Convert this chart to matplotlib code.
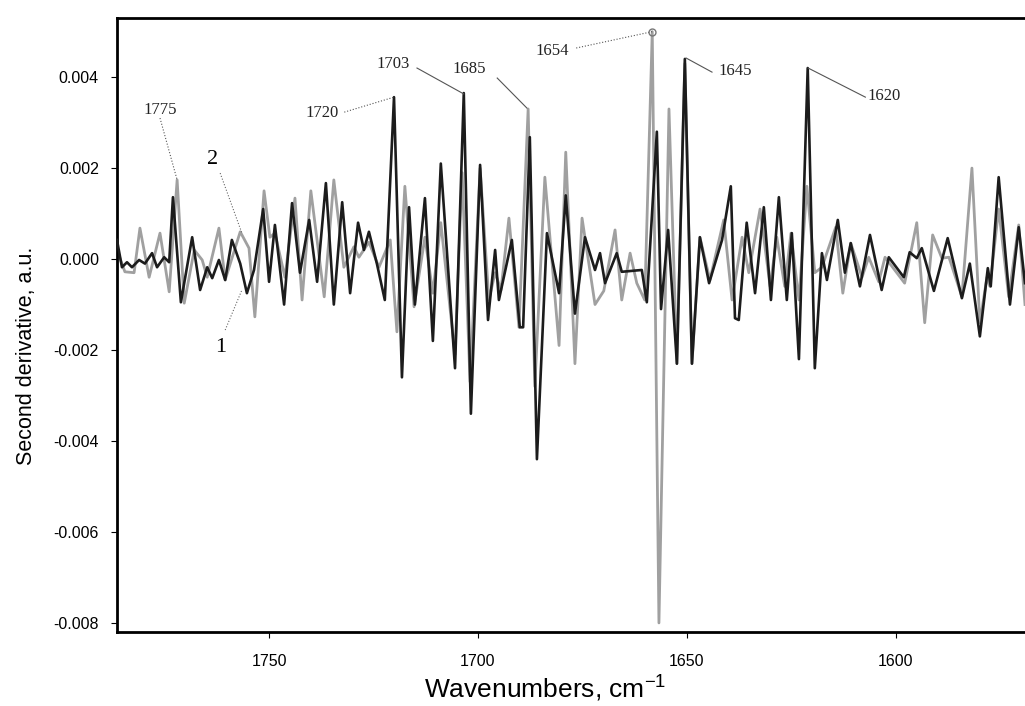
import matplotlib
matplotlib.use("Agg")
import matplotlib.pyplot as plt

plt.rcParams['font.family'] = ['Liberation Sans', 'DejaVu Sans']
plt.rcParams['mathtext.default'] = 'regular'

# curve 1 (black) - wavenumber, second derivative
wn_1 = [1786.4, 1785.2, 1784.0, 1782.8, 1781.1, 1779.7, 1778.0, 1776.8, 1775.1, 1773.9,
        1773.0, 1771.1, 1768.4, 1766.5, 1764.8, 1763.6, 1762.0, 1760.5, 1758.9, 1756.9,
        1755.3, 1753.6, 1751.4, 1750.0, 1748.6, 1746.4, 1744.5, 1742.6, 1740.4, 1738.5,
        1736.4, 1734.5, 1732.5, 1730.6, 1728.7, 1727.3, 1726.1, 1724.2, 1722.3, 1720.1,
        1718.2, 1716.5, 1715.1, 1712.7, 1710.8, 1708.9, 1705.5, 1703.4, 1701.7, 1699.5,
        1697.6, 1695.9, 1695.0, 1691.9, 1690.0, 1689.2, 1687.6, 1685.9, 1683.5, 1680.6,
        1679.0, 1676.8, 1674.4, 1672.0, 1670.8, 1669.6, 1666.8, 1665.6, 1660.8, 1659.6,
        1657.2, 1656.2, 1654.5, 1652.4, 1650.5, 1648.8, 1646.9, 1644.7, 1641.6, 1639.5,
        1638.5, 1637.6, 1635.7, 1633.7, 1631.6, 1629.9, 1628.0, 1626.1, 1624.9, 1623.2,
        1621.1, 1619.4, 1617.7, 1616.5, 1613.9, 1612.2, 1610.8, 1608.6, 1606.2, 1603.4,
        1601.7, 1598.1, 1596.7, 1595.0, 1593.8, 1590.9, 1587.6, 1584.2, 1582.3, 1579.9,
        1578.0, 1577.3, 1575.4, 1572.7, 1570.6, 1569.1]
d2_1 = [0.00042, -0.00018, -0.00007, -0.00018, -0.00002, -0.0001, 0.00013, -0.00018, 0.00004, -0.00007,
        0.00136, -0.00095, 0.00048, -0.00068, -0.00018, -0.00042, -0.00002, -0.00046, 0.00042, -0.0001,
        -0.00075, -0.00024, 0.0011, -0.0005, 0.00075, -0.001, 0.00123, -0.0003, 0.00086, -0.0005,
        0.00167, -0.001, 0.00125, -0.00075, 0.0008, 0.0002, 0.0006, -0.0001, -0.0009, 0.00356,
        -0.0026, 0.00114, -0.001, 0.00134, -0.0018, 0.0021, -0.0024, 0.00365, -0.0034, 0.00207,
        -0.00134, 0.0002, -0.0009, 0.00042, -0.0015, -0.0015, 0.00268, -0.0044, 0.00057, -0.00075,
        0.0014, -0.0012, 0.00048, -0.00024, 0.00013, -0.00053, 0.00013, -0.00028, -0.00024, -0.00095,
        0.0028, -0.0011, 0.00064, -0.0023, 0.0044, -0.0023, 0.00048, -0.00053, 0.00042, 0.0016,
        -0.0013, -0.00134, 0.0008, -0.00075, 0.00114, -0.0009, 0.00136, -0.0009, 0.00057, -0.0022,
        0.0042, -0.0024, 0.00013, -0.00046, 0.00086, -0.0003, 0.00035, -0.0006, 0.00053, -0.00068,
        0.00004, -0.0004, 0.00015, 0.00002, 0.00024, -0.0007, 0.00046, -0.00086, -0.0001, -0.0017,
        -0.0002, -0.0006, 0.0018, -0.001, 0.0007, -0.00053]

# curve 2 (grey)
wn_2 = [1786.4, 1784.5, 1782.3, 1780.9, 1778.7, 1776.1, 1773.9, 1772.0, 1770.3, 1767.9,
        1766.0, 1764.8, 1762.0, 1760.5, 1756.9, 1754.8, 1753.4, 1751.2, 1749.8, 1748.6,
        1746.2, 1743.8, 1742.1, 1740.0, 1736.8, 1734.5, 1732.1, 1729.7, 1728.5, 1726.1,
        1723.7, 1721.0, 1719.4, 1717.5, 1715.3, 1712.7, 1710.8, 1708.9, 1705.5, 1703.8,
        1701.9, 1699.5, 1697.4, 1695.9, 1694.5, 1692.6, 1690.2, 1688.0, 1686.4, 1684.0,
        1680.6, 1679.0, 1676.8, 1675.1, 1672.0, 1669.9, 1667.2, 1665.6, 1663.6, 1662.0,
        1660.1, 1658.3, 1656.7, 1654.3, 1652.4, 1650.5, 1648.8, 1646.9, 1644.5, 1641.2,
        1639.2, 1636.8, 1635.2, 1632.5, 1630.1, 1628.5, 1626.6, 1625.1, 1623.2, 1621.3,
        1619.4, 1617.7, 1614.4, 1612.7, 1610.8, 1608.1, 1606.5, 1604.1, 1602.6, 1597.9,
        1595.0, 1593.1, 1591.2, 1589.0, 1587.3, 1584.2, 1581.8, 1579.9, 1578.2, 1577.5,
        1575.4, 1573.0, 1570.6, 1569.1]
d2_2 = [0.0002, -0.00028, -0.0003, 0.00068, -0.0004, 0.00057, -0.00072, 0.00174, -0.00097, 0.0002,
        -0.00002, -0.0004, 0.00068, -0.00046, 0.0006, 0.00024, -0.00127, 0.0015, 0.00048, 0.00057,
        -0.0004, 0.00134, -0.0009, 0.0015, -0.00083, 0.00174, -0.00018, 0.00027, 0.00004, 0.00037,
        -0.00018, 0.00042, -0.0016, 0.0016, -0.00105, 0.00048, -0.00075, 0.0008, -0.0021, 0.0019,
        -0.0027, 0.002, -0.0009, -0.0003, -0.00068, 0.0009, -0.0015, 0.0033, -0.0028, 0.0018,
        -0.0019, 0.00235, -0.0023, 0.0009, -0.001, -0.0007, 0.00064, -0.0009, 0.00013, -0.00053,
        -0.0009, 0.005, -0.008, 0.0033, -0.0023, 0.0043, -0.0023, 0.00048, -0.00046, 0.00086,
        -0.0009, 0.00048, -0.0003, 0.0011, -0.0006, 0.00048, -0.0006, 0.00057, -0.0009, 0.0016,
        -0.0003, -0.00018, 0.0007, -0.00075, 0.00035, -0.0004, 0.00004, -0.0005, 0.00004, -0.00053,
        0.0008, -0.0014, 0.00053, 0.00002, 0.00004, -0.00083, 0.002, -0.0014, -0.0004, -0.0006,
        0.0011, -0.00083, 0.00075, -0.001]

x_ticks = [1750, 1700, 1650, 1600]
y_ticks = [-0.008, -0.006, -0.004, -0.002, 0.0, 0.002, 0.004]
y_tick_labels = ['-0.008', '-0.006', '-0.004', '-0.002', '0.000', '0.002', '0.004']

# peak labels: text, label position, leader start, leader end, dotted?
peak_labels = ['1775', '1720', '1703', '1685', '1654', '1645', '1620']
label_pos = [(1776.1, 0.00327), (1737.3, 0.00321), (1720.3, 0.00429), (1702.1, 0.00418),
             (1682.3, 0.00457), (1638.5, 0.00413), (1602.9, 0.00358)]
leader_from = [(1776.1, 0.0031), (1732.0, 0.00323), (1714.6, 0.0042), (1695.4, 0.00398),
               (1676.5, 0.00464), (1650.2, 0.00442), (1621.0, 0.0042)]
leader_to = [(1772.0, 0.00174), (1720.1, 0.00356), (1703.4, 0.00363), (1688.3, 0.00332),
             (1658.3, 0.005), (1644.0, 0.00411), (1607.3, 0.00356)]
leader_dotted = [True, True, False, False, True, False, False]

serif = ['Liberation Serif', 'DejaVu Serif']

fig = plt.figure(figsize=(10.25, 7.06), dpi=100)
ax = fig.add_axes([0.1141, 0.1048, 0.8859, 0.8697])

ax.plot(wn_2, d2_2, color='#a0a0a0', lw=2.0, zorder=2)
ax.plot(wn_1, d2_1, color='#1c1c1c', lw=1.9, zorder=3)

for txt, pos, a, b, dot in zip(peak_labels, label_pos, leader_from, leader_to, leader_dotted):
    ax.text(pos[0], pos[1], txt, ha='center', va='center', fontsize=12,
            family=serif, color='#222222')
    ax.plot([a[0], b[0]], [a[1], b[1]], color='#555555', lw=0.8,
            ls=':' if dot else '-', zorder=4)

# small circle at the 1654 peak
ax.plot([1658.3], [0.005], marker='o', ms=5, mfc='none', mec='#777777', zorder=5)

# curve numbers
ax.text(1763.6, 0.00218, '2', ha='center', va='center', fontsize=16, family=serif)
ax.plot([1761.7, 1756.5], [0.00189, 0.00057], color='#666666', lw=0.8, ls=':')
ax.text(1761.5, -0.00195, '1', ha='center', va='center', fontsize=16, family=serif)
ax.plot([1760.5, 1756.5], [-0.00156, -0.00068], color='#666666', lw=0.8, ls=':')

ax.set_xlim(1786.4, 1569.1)
ax.set_ylim(-0.0082, 0.0053)
ax.set_xticks(x_ticks)
ax.set_xticklabels([str(t) for t in x_ticks])
ax.set_yticks(y_ticks)
ax.set_yticklabels(y_tick_labels)
ax.tick_params(labelsize=11.5, length=4, width=0.8, direction='out')
ax.tick_params(axis='y', pad=9)
ax.tick_params(axis='x', pad=12)

for s in ['left', 'top', 'bottom']:
    ax.spines[s].set_linewidth(2)
ax.spines['right'].set_visible(False)

ax.set_xlabel('Wavenumbers, cm$^{-1}$', fontsize=19)
ax.xaxis.set_label_coords(0.471, -0.068)
ax.set_ylabel('Second derivative, a.u.', fontsize=15.5)
ax.yaxis.set_label_coords(-0.088, 0.45)

fig.savefig('out.png', dpi=100)
